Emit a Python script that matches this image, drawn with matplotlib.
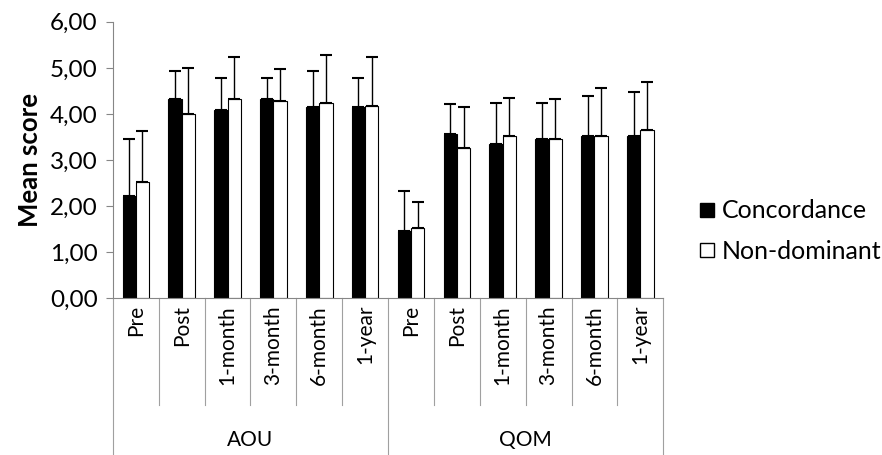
import matplotlib.pyplot as plt
from matplotlib.lines import Line2D
from matplotlib.ticker import FuncFormatter
import matplotlib.transforms as mtransforms
import numpy as np

plt.rcParams['font.family'] = ['Lato', 'DejaVu Sans']

groups = ['AOU', 'QOM']
times = ['Pre', 'Post', '1-month', '3-month', '6-month', '1-year']

conc = [2.21, 4.33, 4.09, 4.33, 4.15, 4.15,
        1.46, 3.56, 3.35, 3.46, 3.52, 3.52]
conc_top = [3.45, 4.93, 4.77, 4.79, 4.93, 4.79,
            2.33, 4.21, 4.24, 4.24, 4.38, 4.48]
nondom = [2.53, 4.00, 4.33, 4.28, 4.24, 4.17,
          1.52, 3.25, 3.52, 3.45, 3.52, 3.64]
nondom_top = [3.62, 5.00, 5.24, 4.98, 5.29, 5.24,
              2.09, 4.15, 4.35, 4.33, 4.56, 4.70]

conc = np.array(conc)
nondom = np.array(nondom)
conc_err = np.array(conc_top) - conc
nondom_err = np.array(nondom_top) - nondom

fig = plt.figure(figsize=(8.82, 4.55), dpi=100)
ax = fig.add_axes([0.128, 0.345, 0.624, 0.607])

x = np.arange(len(conc))
w = 0.29
ax.bar(x - w / 2, conc, w, color='black', edgecolor='black', linewidth=0.8)
ax.bar(x + w / 2, nondom, w, color='white', edgecolor='black', linewidth=0.8)
ax.errorbar(x - w / 2, conc, yerr=[np.zeros_like(conc_err), conc_err],
            fmt='none', ecolor='black', elinewidth=1, capsize=4, capthick=1.5)
ax.errorbar(x + w / 2, nondom, yerr=[np.zeros_like(nondom_err), nondom_err],
            fmt='none', ecolor='black', elinewidth=1, capsize=4, capthick=1.5)

ax.set_xlim(-0.5, len(conc) - 0.5)
ax.set_ylim(0, 6)
ax.set_yticks(np.arange(0, 7, 1))
ax.yaxis.set_major_formatter(FuncFormatter(lambda v, p: f'{v:.2f}'.replace('.', ',')))
ax.tick_params(axis='y', labelsize=17.5, length=5, color='#868686', pad=6)
ax.set_xticks([])
for s in ['top', 'right']:
    ax.spines[s].set_visible(False)
for s in ['left', 'bottom']:
    ax.spines[s].set_color('#868686')
ax.set_ylabel('Mean score', fontsize=18.5, fontweight='bold', labelpad=6)

# category axis with two levels
trans = mtransforms.blended_transform_factory(ax.transData, ax.transAxes)
labels = times * 2
for i, lab in enumerate(labels):
    ax.text(i, -0.025, lab, transform=trans, rotation=90, ha='center', va='top',
            fontsize=15)
for k in range(len(labels) + 1):
    bottom = -0.57 if k % 6 == 0 else -0.388
    ax.plot([k - 0.5, k - 0.5], [0, bottom], transform=trans, color='#a0a0a0',
            linewidth=0.8, clip_on=False)
for g, name in enumerate(groups):
    ax.text(g * 6 + 2.5, -0.515, name, transform=trans, ha='center', va='center',
            fontsize=15)

handles = [Line2D([], [], marker='s', linestyle='none', markersize=10,
                  markerfacecolor='black', markeredgecolor='black'),
           Line2D([], [], marker='s', linestyle='none', markersize=10,
                  markerfacecolor='white', markeredgecolor='black')]
fig.legend(handles, ['Concordance', 'Non-dominant'], loc='center left',
           bbox_to_anchor=(0.776, 0.492), frameon=False, fontsize=18,
           handlelength=0.8, handletextpad=0.2, labelspacing=0.7, borderpad=0)

plt.savefig('out.png', dpi=100)
plt.close()
